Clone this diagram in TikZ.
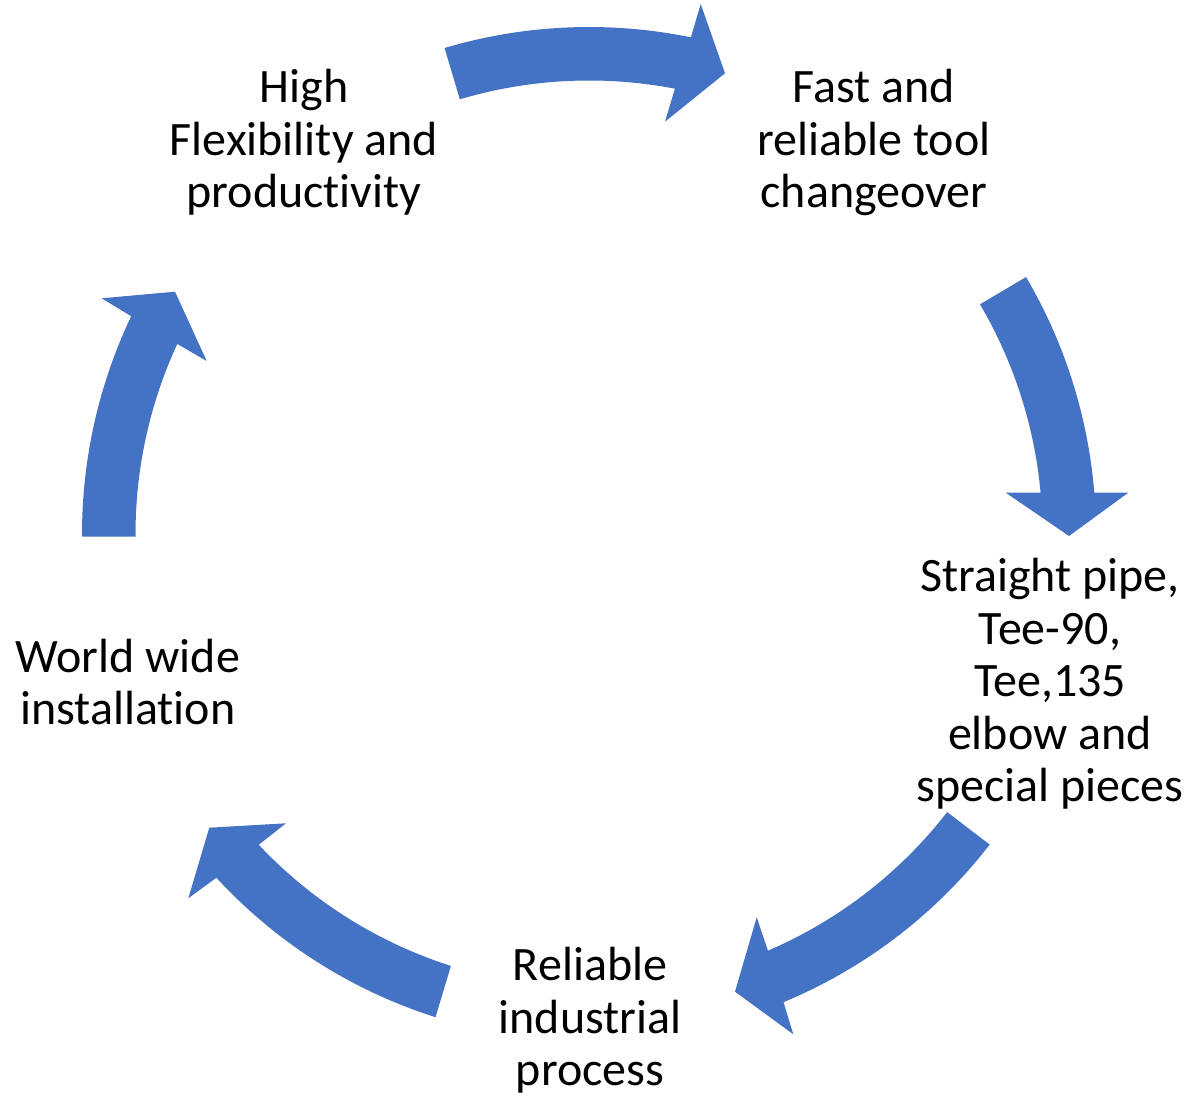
\documentclass[tikz,border=0pt]{standalone}
\usepackage{fontspec}
\setmainfont[Ligatures=NoCommon]{Carlito}
\usetikzlibrary{calc}
\definecolor{sablue}{HTML}{4472C4}
\begin{document}
\begin{tikzpicture}[x=1pt,y=1pt,
  cyc/.style={fill=sablue, draw=none},
  lbl/.style={align=center, font=\fontsize{48}{52.6}\selectfont, anchor=base, inner sep=0pt}]
\useasboundingbox (0,0) rectangle (1195,1098);
\coordinate (O) at (589,564);
% top arrow
\fill[cyc] ($(O)+(106.55:507pt)$) arc[start angle=106.55, end angle=78.4, radius=507pt]
  -- (700.7,1094) -- (725,1024.7) -- (665,976.3)
  -- ($(O)+(79.08:453.5pt)$) arc[start angle=79.08, end angle=106.55, radius=453.5pt] -- cycle;
% right arrow
\fill[cyc] ($(O)+(30.45:507pt)$) arc[start angle=30.45, end angle=4.68, radius=507pt]
  -- (1128.3,605.3) -- (1069,562) -- (1005.7,605.3)
  -- ($(O)+(5.24:453.5pt)$) arc[start angle=5.24, end angle=30.43, radius=453.5pt] -- cycle;
% bottom-right arrow
\fill[cyc] ($(O)+(-37.78:507pt)$) arc[start angle=-37.78, end angle=-67.44, radius=507pt]
  -- (793.3,63.7) -- (735,106.3) -- (756.7,180.7)
  -- ($(O)+(-66.76:453.5pt)$) arc[start angle=-66.76, end angle=-37.83, radius=453.5pt] -- cycle;
% bottom-left arrow
\fill[cyc] ($(O)+(-107.62:507pt)$) arc[start angle=-107.62, end angle=-137.31, radius=507pt]
  -- (188.3,199.7) -- (209.3,270.3) -- (286,274.7)
  -- ($(O)+(-136.74:453.5pt)$) arc[start angle=-136.74, end angle=-107.73, radius=453.5pt] -- cycle;
% left arrow
\fill[cyc] ($(O)+(180.3:507pt)$) arc[start angle=180.3, end angle=154.56, radius=507pt]
  -- (101.7,799.7) -- (175,806.3) -- (206.7,737)
  -- ($(O)+(155.22:453.5pt)$) arc[start angle=155.22, end angle=180.34, radius=453.5pt] -- cycle;
% labels (anchor = baseline of last line)
\node[lbl] (n1) at (304,890) {High\\Flexibility and\\productivity};
\node[lbl] (n2) at (874,890) {Fast and\\reliable tool\\changeover};
\node[lbl] (n3) at (1050,296) {Straight pipe,\\Tee-90,\\Tee,135\\elbow and\\special pieces};
\node[lbl] (n4) at (590,12) {Reliable\\industrial\\process};
\node[lbl] (n5) at (128,373) {World wide\\installation};
\end{tikzpicture}
\end{document}
